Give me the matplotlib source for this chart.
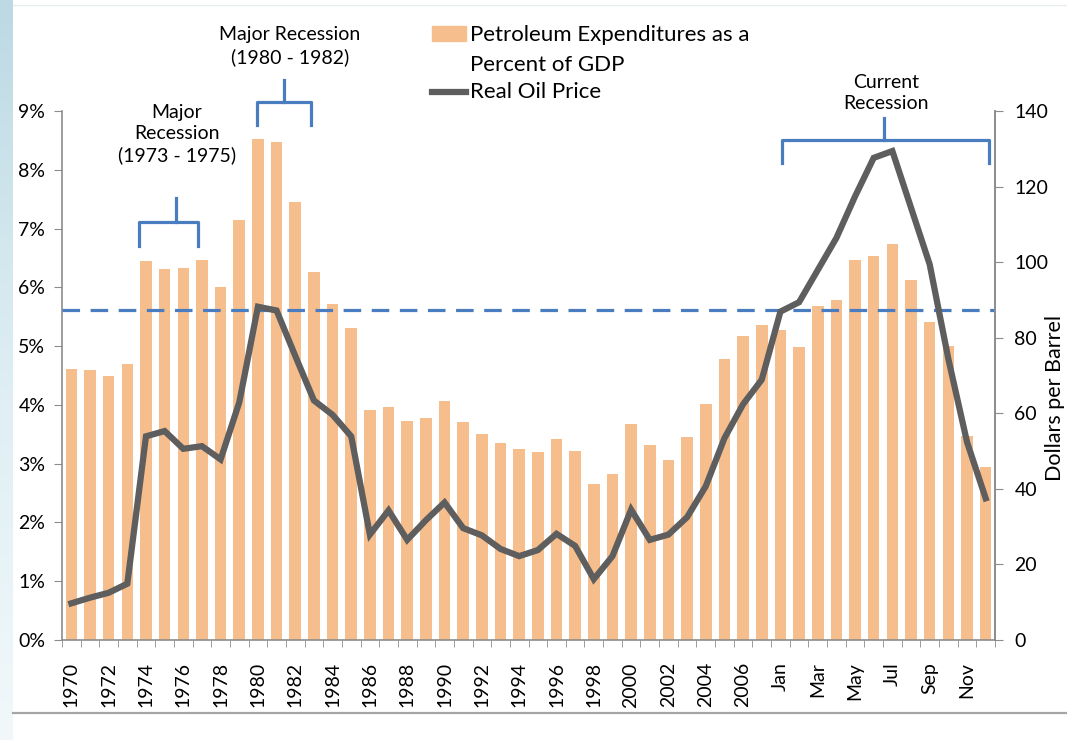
import numpy as np
import matplotlib
matplotlib.use('Agg')
import matplotlib.pyplot as plt
from matplotlib.lines import Line2D
from matplotlib.patches import Rectangle

plt.rcParams['font.family'] = ['Lato', 'DejaVu Sans']

# categories: annual 1970-2007, then monthly for the current year
years = [str(y) for y in range(1970, 2008)]
months = ['Jan', 'Feb', 'Mar', 'Apr', 'May', 'Jun',
          'Jul', 'Aug', 'Sep', 'Oct', 'Nov', 'Dec']
categories = years + months

# petroleum expenditures as percent of GDP
pct_gdp = [4.61, 4.59, 4.49, 4.70, 6.45, 6.31, 6.33, 6.46, 6.01, 7.15,
           8.53, 8.47, 7.45, 6.26, 5.72, 5.31, 3.92, 3.96, 3.73, 3.77,
           4.06, 3.71, 3.50, 3.35, 3.25, 3.19, 3.42, 3.22, 2.65, 2.83,
           3.68, 3.32, 3.06, 3.45, 4.01, 4.78, 5.17, 5.36,
           5.28, 4.99, 5.69, 5.78, 6.47, 6.53, 6.74, 6.13, 5.41, 5.01, 3.47, 2.95]

# real oil price, dollars per barrel
oil_price = [9.7, 11.2, 12.5, 14.9, 53.9, 55.3, 50.6, 51.3, 47.8, 62.9,
             88.2, 87.2, 75.2, 63.4, 59.6, 53.9, 27.9, 34.3, 26.5, 31.7,
             36.4, 29.6, 27.7, 24.1, 22.2, 23.8, 28.1, 24.9, 16.1, 22.2,
             34.5, 26.5, 27.9, 32.5, 40.7, 53.4, 62.4, 68.9,
             86.9, 89.4, 97.9, 106.4, 117.4, 127.6, 129.4, 114.4, 99.4, 74.4, 52.4, 37.5]

threshold = 5.62  # dashed reference level (%)

# recession brackets: label, left, right, stem, bar level, end level, stem top
recessions = [
    ('Major\nRecession\n(1973 - 1975)', 3.6, 6.8, 5.6, 7.12, 6.70, 7.52),
    ('Major Recession\n(1980 - 1982)', 9.95, 12.85, 11.4, 9.15, 8.76, 9.52),
    ('Current\nRecession', 38.1, 49.2, 43.55, 8.50, 8.11, 8.88),
]

bar_col = '#F7BE8D'
line_col = '#5E5E5E'
blue = '#4A7DC0'
axis_col = '#8C8C8C'

fig = plt.figure(figsize=(10.67, 7.4), dpi=100)

# slide decoration: gradient strip on the left, rules top and bottom
strip = fig.add_axes([0, 0, 13 / 1067, 1])
grad = np.linspace(0, 1, 256).reshape(-1, 1)
strip.imshow(grad, aspect='auto', cmap=matplotlib.colors.LinearSegmentedColormap.from_list(
    'g', ['#BCD9E4', '#DDEEF3', '#F2F8FA']), extent=[0, 1, 0, 1])
strip.axis('off')
fig.add_artist(Line2D([13 / 1067, 1], [1 - 713 / 740] * 2, color='#A5A5A5', lw=1.6))
fig.add_artist(Line2D([13 / 1067, 1], [1 - 5 / 740] * 2, color='#E6ECEF', lw=1.0))

ax = fig.add_axes([62 / 1067, 1 - 640 / 740, (995 - 62) / 1067, (640 - 111) / 740])
x = np.arange(len(categories))
ax.bar(x, pct_gdp, width=0.62, color=bar_col, zorder=2)
ax.set_xlim(-0.5, len(categories) - 0.5)
ax.set_ylim(0, 9)
ax.set_yticks(range(10))
ax.set_yticklabels([f'{v}%' for v in range(10)], fontsize=14)
ax.axhline(threshold, color=blue, lw=2.3, ls=(0, (5.5, 3.3)), zorder=3)

ax.spines['top'].set_visible(False)
for s in ['left', 'right', 'bottom']:
    ax.spines[s].set_color(axis_col)
    ax.spines[s].set_linewidth(1.2)

lab_pos = [i for i in x if i % 2 == 0]
ax.set_xticks(lab_pos)
ax.set_xticklabels([categories[i] for i in lab_pos], rotation=90, fontsize=14)
ax.set_xticks(np.arange(-0.5, len(categories), 1), minor=True)
ax.tick_params(axis='x', which='major', length=0, pad=16)
ax.tick_params(axis='x', which='minor', length=5, color=axis_col, direction='out')
ax.tick_params(axis='y', length=6, color=axis_col, pad=6)

ax2 = ax.twinx()
ax2.plot(x, oil_price, color=line_col, lw=4.5, solid_joinstyle='miter', zorder=4)
ax2.set_ylim(0, 140)
ax2.set_yticks(range(0, 141, 20))
ax2.tick_params(axis='y', labelsize=14, length=6, color=axis_col, pad=8)
for s in ['top', 'left', 'bottom']:
    ax2.spines[s].set_visible(False)
ax2.spines['right'].set_color(axis_col)
ax2.spines['right'].set_linewidth(1.2)
fig.text(1055 / 1067, 1 - 398 / 740, 'Dollars per Barrel', rotation=90,
         ha='center', va='center', fontsize=15.5)

# recession brackets and labels
for label, x0, x1, xs, yh, ye, yt in recessions:
    ax.plot([x0, x0, x1, x1], [ye, yh, yh, ye], color=blue, lw=2.3,
            clip_on=False, zorder=5)
    ax.plot([xs, xs], [yh, yt], color=blue, lw=2.3, clip_on=False, zorder=5)

fig.text(177 / 1067, 1 - 134 / 740, recessions[0][0], ha='center', va='center',
         fontsize=14, linespacing=1.3)
fig.text(290 / 1067, 1 - 46 / 740, recessions[1][0], ha='center', va='center',
         fontsize=14, linespacing=1.3)
fig.text(886 / 1067, 1 - 93 / 740, recessions[2][0], ha='center', va='center',
         fontsize=14, linespacing=1.3)

# legend drawn by hand to match the layout
fig.add_artist(Rectangle((432 / 1067, 1 - 41 / 740), 34 / 1067, 15 / 740,
                         color=bar_col, transform=fig.transFigure))
fig.text(470 / 1067, 1 - 35 / 740, 'Petroleum Expenditures as a', fontsize=16,
         va='center', ha='left')
fig.text(470 / 1067, 1 - 65 / 740, 'Percent of GDP', fontsize=16,
         va='center', ha='left')
fig.add_artist(Line2D([432 / 1067, 466 / 1067], [1 - 92 / 740] * 2,
                      color=line_col, lw=4.5))
fig.text(470 / 1067, 1 - 92 / 740, 'Real Oil Price', fontsize=16,
         va='center', ha='left')

fig.savefig('out.png', dpi=100)
